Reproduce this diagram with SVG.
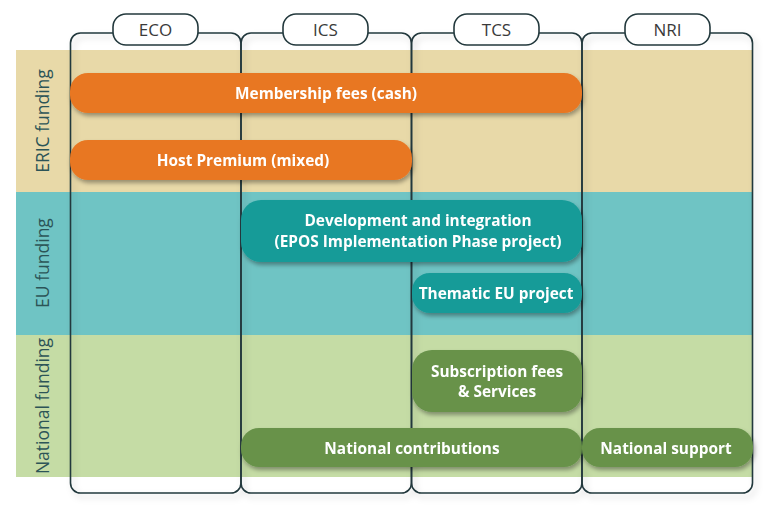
<svg xmlns="http://www.w3.org/2000/svg" width="768" height="518" viewBox="0 0 768 518">
<defs>
<filter id="sh" x="-10%" y="-30%" width="120%" height="170%">
<feDropShadow dx="1.5" dy="3" stdDeviation="2" flood-color="#000" flood-opacity="0.35"/>
</filter>
<filter id="csh" x="-10%" y="-10%" width="120%" height="120%">
<feDropShadow dx="3" dy="4" stdDeviation="3" flood-color="#000" flood-opacity="0.18"/>
</filter>
<style>
.col{fill:none;stroke:#23393d;stroke-width:1.6}
.hdr{fill:#fff;stroke:#23393d;stroke-width:1.6}
.ht{font-family:"Open Sans","DejaVu Sans",sans-serif;font-size:17px;fill:#3a3a3a;text-anchor:middle}
.rl{font-family:"Open Sans","DejaVu Sans",sans-serif;font-size:17.5px;fill:#2c5457;text-anchor:middle}
.bt{font-family:"Open Sans","DejaVu Sans",sans-serif;font-size:15.4px;font-weight:bold;fill:#fff;text-anchor:middle}
.or{fill:#e87722}
.tl{fill:#179b98}
.gr{fill:#67924a}
</style>
</defs>
<rect width="768" height="518" fill="#fff"/>
<g id="bands">
<rect x="16" y="50" width="737" height="142" fill="#e8d9a8"/>
<rect x="16" y="192" width="737" height="143" fill="#6fc4c4"/>
<rect x="16" y="335" width="737" height="142" fill="#c5dca5"/>
<text class="rl" transform="translate(49,121) rotate(-90)">ERIC funding</text>
<text class="rl" transform="translate(49,263) rotate(-90)">EU funding</text>
<text class="rl" transform="translate(49,406) rotate(-90)">National funding</text>
</g>
<g id="columns" filter="url(#csh)">
<rect class="col" x="70.5" y="33" width="170.5" height="460" rx="10"/>
<rect class="col" x="241" y="33" width="170.5" height="460" rx="10"/>
<rect class="col" x="411.5" y="33" width="170.5" height="460" rx="10"/>
<rect class="col" x="582" y="33" width="170.5" height="460" rx="10"/>
</g>
<g id="bar-membership" filter="url(#sh)">
<rect class="or" x="70" y="73" width="512" height="40" rx="18"/>
<text class="bt" x="326" y="99">Membership fees (cash)</text>
</g>
<g id="bar-host" filter="url(#sh)">
<rect class="or" x="70" y="140" width="342" height="40" rx="18"/>
<text class="bt" x="243" y="166">Host Premium (mixed)</text>
</g>
<g id="bar-development" filter="url(#sh)">
<rect class="tl" x="241" y="200" width="341" height="62" rx="20"/>
<text class="bt" x="418" y="226">Development and integration</text>
<text class="bt" x="418" y="247">(EPOS Implementation Phase project)</text>
</g>
<g id="bar-thematic" filter="url(#sh)">
<rect class="tl" x="412" y="273" width="170" height="40" rx="18"/>
<text class="bt" x="496" y="299">Thematic EU project</text>
</g>
<g id="bar-subscription" filter="url(#sh)">
<rect class="gr" x="412" y="350" width="170" height="62" rx="20"/>
<text class="bt" x="497" y="377">Subscription fees</text>
<text class="bt" x="497" y="397">&amp; Services</text>
</g>
<g id="bar-national-contrib" filter="url(#sh)">
<rect class="gr" x="241" y="428" width="341" height="39" rx="18"/>
<text class="bt" x="412" y="454">National contributions</text>
</g>
<g id="bar-national-support" filter="url(#sh)">
<rect class="gr" x="582" y="428" width="171" height="39" rx="18"/>
<text class="bt" x="666" y="454">National support</text>
</g>
<g id="hdr-eco"><rect class="hdr" x="113" y="14" width="85" height="31" rx="13"/><text class="ht" x="155.5" y="36">ECO</text></g>
<g id="hdr-ics"><rect class="hdr" x="283" y="14" width="85" height="31" rx="13"/><text class="ht" x="325.5" y="36">ICS</text></g>
<g id="hdr-tcs"><rect class="hdr" x="454" y="14" width="85" height="31" rx="13"/><text class="ht" x="496.5" y="36">TCS</text></g>
<g id="hdr-nri"><rect class="hdr" x="625" y="14" width="85" height="31" rx="13"/><text class="ht" x="667.5" y="36">NRI</text></g>
</svg>
